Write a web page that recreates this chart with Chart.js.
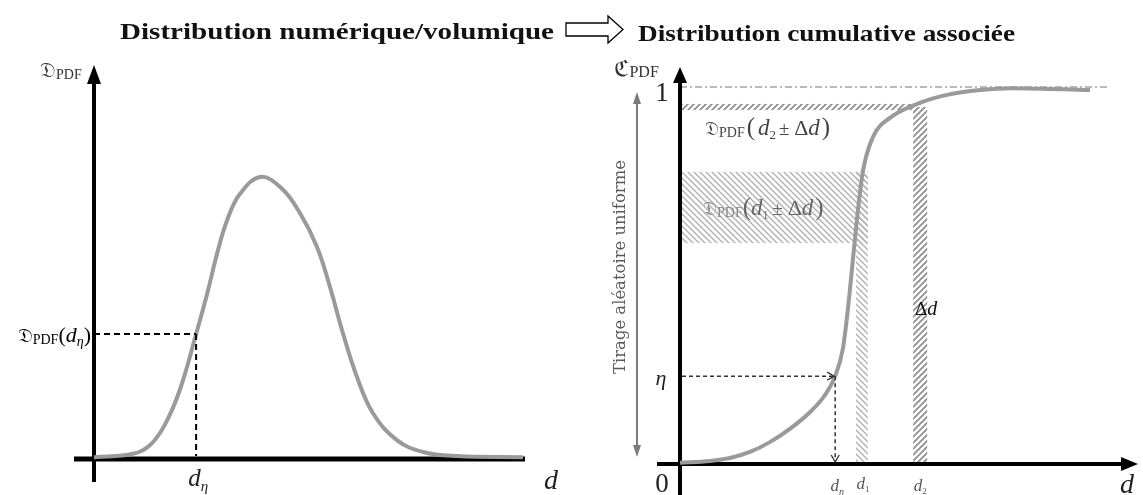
<!DOCTYPE html>
<html><head><meta charset="utf-8">
<script src="https://cdn.jsdelivr.net/npm/chart.js@4.4.1/dist/chart.umd.min.js"></script>
<style>html,body{margin:0;padding:0;background:#fff}#wrap{position:relative;width:1143px;height:495px;overflow:hidden}canvas{position:absolute;left:0;top:0}</style>
</head><body>
<div id="wrap"><canvas id="c1" width="1143" height="495"></canvas><canvas id="c2" width="1143" height="495"></canvas></div>
<script>
// ---------- data ----------
const pdfD = [0, 0.91, 1.31, 1.65, 2.00, 2.38, 2.63, 2.89, 3.12, 3.40, 3.87, 4.34, 4.80, 5.20, 5.50, 5.80, 6.13, 6.50, 7.06, 7.67, 8.46, 10];
const pdfValues = [0.005, 0.014, 0.038, 0.092, 0.186, 0.337, 0.442, 0.563, 0.649, 0.714, 0.760, 0.733, 0.663, 0.571, 0.464, 0.340, 0.221, 0.124, 0.051, 0.019, 0.008, 0.005];
const cdfD = [0, 0.71, 1.18, 1.65, 2.12, 2.59, 3.07, 3.42, 3.66, 3.84, 3.96, 4.08, 4.20, 4.32, 4.55, 4.95, 5.66, 6.30, 7.08, 7.85, 9.67];
const cdfValues = [0.003, 0.008, 0.016, 0.032, 0.058, 0.093, 0.138, 0.183, 0.233, 0.305, 0.411, 0.544, 0.676, 0.780, 0.867, 0.918, 0.958, 0.979, 0.992, 0.997, 0.992];
const pdfEta = { d: 2.38, value: 0.337 };
const cdfEta = { d: 3.66, value: 0.233 };
const d1Band = [4.15, 4.43];
const d2Band = [5.50, 5.83];
const cdfD1Range = [0.586, 0.775];
const cdfD2Range = [0.939, 0.955];
const titles = ["Distribution numérique/volumique", "Distribution cumulative associée"];
const axisLabel = "Tirage aléatoire uniforme";

// ---------- helpers ----------
const SERIF = '"Liberation Serif", "DejaVu Serif", serif';
const WSERIF = '"DejaVu Serif", "Liberation Serif", serif';
const F = (s, st) => `${st || ''} ${s}px ${SERIF}`;
const FR = s => `${s}px "DejaVu Serif", "DejaVu Sans", "Noto Sans", serif`;
function runs(ctx, x, y, list, align) {
  ctx.save(); ctx.textBaseline = 'alphabetic';
  let tot = 0;
  list.forEach(r => { ctx.font = r.f; r.w = ctx.measureText(r.t).width; tot += r.w + (r.g || 0); });
  let cx = align === 'right' ? x - tot : align === 'center' ? x - tot / 2 : x;
  list.forEach(r => { ctx.font = r.f; ctx.fillStyle = r.c || '#000'; ctx.fillText(r.t, cx, y + (r.dy || 0)); cx += r.w + (r.g || 0); });
  ctx.restore();
}
function stretchText(ctx, text, x, y, width, font, col) {
  ctx.save(); ctx.font = font; ctx.fillStyle = col; ctx.textBaseline = 'alphabetic';
  const w = ctx.measureText(text).width;
  ctx.translate(x, y); ctx.scale(width / w, 1); ctx.fillText(text, 0, 0); ctx.restore();
}
function line(ctx, x1, y1, x2, y2, col, w, dash) {
  ctx.save(); ctx.strokeStyle = col; ctx.lineWidth = w; ctx.setLineDash(dash || []);
  ctx.beginPath(); ctx.moveTo(x1, y1); ctx.lineTo(x2, y2); ctx.stroke(); ctx.restore();
}
function tri(ctx, pts, col) {
  ctx.save(); ctx.fillStyle = col; ctx.beginPath(); ctx.moveTo(pts[0], pts[1]);
  for (let i = 2; i < pts.length; i += 2) ctx.lineTo(pts[i], pts[i + 1]);
  ctx.closePath(); ctx.fill(); ctx.restore();
}
function chevron(ctx, x, y, dir, col) {
  ctx.save(); ctx.strokeStyle = col; ctx.lineWidth = 1.3; ctx.beginPath();
  if (dir === 'r') { ctx.moveTo(x - 7, y - 4); ctx.lineTo(x, y); ctx.lineTo(x - 7, y + 4); }
  else { ctx.moveTo(x - 4, y - 7); ctx.lineTo(x, y); ctx.lineTo(x + 4, y - 7); }
  ctx.stroke(); ctx.restore();
}
function hatch(ctx, dir, col, lw) {
  const c = document.createElement('canvas'); c.width = 6; c.height = 6;
  const g = c.getContext('2d'); g.strokeStyle = col; g.lineWidth = lw; g.beginPath();
  if (dir === 'back') { g.moveTo(-1, -1); g.lineTo(7, 7); g.moveTo(-4, 2); g.lineTo(2, 8); g.moveTo(2, -4); g.lineTo(8, 2); }
  else { g.moveTo(-1, 7); g.lineTo(7, -1); g.moveTo(-4, 4); g.lineTo(4, -4); g.moveTo(2, 10); g.lineTo(10, 2); }
  g.stroke();
  return ctx.createPattern(c, 'repeat');
}
function rectData(ctx, xs, ys, x0, x1, y0, y1, pat) {
  const a = xs.getPixelForValue(x0), b = xs.getPixelForValue(x1);
  const c = ys.getPixelForValue(y1), d = ys.getPixelForValue(y0);
  ctx.save(); ctx.fillStyle = pat; ctx.fillRect(a, c, b - a, d - c); ctx.restore();
}
function fitSize(ctx, text, width, fam, style) {
  ctx.font = `${style || ''} 20px ${fam}`; return 20 * width / ctx.measureText(text).width;
}

const baseOpts = (pad) => ({
  responsive: false, animation: false, events: [],
  layout: { padding: pad },
  plugins: { legend: { display: false }, tooltip: { enabled: false } },
  scales: { x: { type: 'linear', min: 0, max: 10, display: false }, y: { min: 0, max: 1, display: false } },
  elements: { point: { radius: 0 } }
});
const ds = (xs, ys, mode) => Object.assign({ data: xs.map((x, i) => ({ x, y: ys[i] })), borderColor: '#9a9a9a', borderWidth: 4, fill: false, clip: false }, mode);

// ---------- left chart ----------
const leftPlugin = {
  id: 'leftDeco',
  beforeDatasetsDraw(chart) {
    const ctx = chart.ctx, xs = chart.scales.x, ys = chart.scales.y;
    const ox = xs.getPixelForValue(0), oy = ys.getPixelForValue(0);
    line(ctx, ox, 82, ox, 482, '#000', 4);
    tri(ctx, [ox, 65, ox - 7, 84, ox + 7, 84], '#000');
    line(ctx, 74, oy, xs.getPixelForValue(10) + 2, oy, '#000', 5);
  },
  afterDatasetsDraw(chart) {
    const ctx = chart.ctx, xs = chart.scales.x, ys = chart.scales.y;
    const ox = xs.getPixelForValue(0), oy = ys.getPixelForValue(0);
    const ex = xs.getPixelForValue(pdfEta.d), ey = ys.getPixelForValue(pdfEta.value);
    line(ctx, ox, ey, ex, ey, '#000', 2, [6, 4]);
    line(ctx, ex, ey, ex, oy - 3, '#000', 2, [6, 4]);
    stretchText(ctx, titles[0], 120, 39, 434, `bold 23px ${SERIF}`, '#111');
    ctx.save(); ctx.strokeStyle = '#000'; ctx.lineWidth = 1.3; ctx.fillStyle = '#fff'; ctx.beginPath();
    ctx.moveTo(566, 23); ctx.lineTo(608, 23); ctx.lineTo(608, 16); ctx.lineTo(623, 29.5);
    ctx.lineTo(608, 43); ctx.lineTo(608, 36); ctx.lineTo(566, 36); ctx.closePath(); ctx.fill(); ctx.stroke(); ctx.restore();
    runs(ctx, 40, 77, [{ t: '𝔇', f: FR(21), c: '#333' }, { t: 'PDF', f: F(14), dy: 2, c: '#333' }], 'left');
    runs(ctx, 91, 342, [{ t: '𝔇', f: FR(20) }, { t: 'PDF', f: F(14), dy: 2 }, { t: '(', f: F(22) },
      { t: 'd', f: F(22, 'italic') }, { t: 'η', f: F(14, 'italic'), dy: 4 }, { t: ')', f: F(22) }], 'right');
    runs(ctx, ex + 2, 486, [{ t: 'd', f: F(25, 'italic'), c: '#222' }, { t: 'η', f: F(15, 'italic'), dy: 5, c: '#222' }], 'center');
    runs(ctx, 551, 489, [{ t: 'd', f: F(28, 'italic'), c: '#222' }], 'center');
  }
};
new Chart(document.getElementById('c1'), {
  type: 'line',
  data: { datasets: [ds(pdfD, pdfValues, { tension: 0.4 })] },
  options: baseOpts({ left: 94, right: 620, top: 88, bottom: 36 }),
  plugins: [leftPlugin]
});

// ---------- right chart ----------
const rightPlugin = {
  id: 'rightDeco',
  beforeDatasetsDraw(chart) {
    const ctx = chart.ctx, xs = chart.scales.x, ys = chart.scales.y;
    const ox = xs.getPixelForValue(0), oy = ys.getPixelForValue(0);
    const pLight = hatch(ctx, 'back', '#b4b4b4', 1.5);
    const pDark = hatch(ctx, 'fwd', '#8f8f8f', 1.8);
    rectData(ctx, xs, ys, 0, d1Band[1], cdfD1Range[0], cdfD1Range[1], pLight);
    rectData(ctx, xs, ys, d1Band[0], d1Band[1], 0, cdfD1Range[1], pLight);
    rectData(ctx, xs, ys, 0, d2Band[0], cdfD2Range[0], cdfD2Range[1], pDark);
    rectData(ctx, xs, ys, d2Band[0], d2Band[1], 0, (cdfD2Range[0] + cdfD2Range[1]) / 2, pDark);
    const y1 = ys.getPixelForValue(1);
    line(ctx, ox, y1, xs.getPixelForValue(10) + 3, y1, '#777', 1.2, [7, 3, 2, 3]);
    line(ctx, ox, 80, ox, 495, '#000', 4);
    tri(ctx, [ox, 67, ox - 7, 83, ox + 7, 83], '#000');
    line(ctx, 657, oy, 1126, oy, '#000', 4);
    tri(ctx, [1138, oy, 1121, oy - 7, 1121, oy + 7], '#000');
    line(ctx, 637, 100, 637, 450, '#7a7a7a', 2);
    tri(ctx, [637, 92, 633, 104, 641, 104], '#7a7a7a');
    tri(ctx, [637, 457, 633, 445, 641, 445], '#7a7a7a');
  },
  afterDatasetsDraw(chart) {
    const ctx = chart.ctx, xs = chart.scales.x, ys = chart.scales.y;
    const ox = xs.getPixelForValue(0), oy = ys.getPixelForValue(0);
    const ex = xs.getPixelForValue(cdfEta.d), ey = ys.getPixelForValue(cdfEta.value);
    line(ctx, ox + 2, ey, ex - 1, ey, '#333', 1.5, [4, 3]);
    chevron(ctx, ex - 1, ey, 'r', '#333');
    line(ctx, ex, ey, ex, oy - 3, '#333', 1.5, [4, 3]);
    chevron(ctx, ex, oy - 2, 'd', '#333');
    stretchText(ctx, titles[1], 638, 41, 377, `bold 23px ${SERIF}`, '#111');
    runs(ctx, 614, 76, [{ t: 'ℭ', f: FR(22), c: '#333' }, { t: 'PDF', f: F(16), dy: 1, c: '#333' }], 'left');
    runs(ctx, 662, 101, [{ t: '1', f: F(27), c: '#222' }], 'center');
    runs(ctx, 662, 492, [{ t: '0', f: F(27), c: '#222' }], 'center');
    runs(ctx, 661, 385, [{ t: 'η', f: F(22, 'italic'), c: '#222' }], 'center');
    runs(ctx, 1127, 493, [{ t: 'd', f: F(28, 'italic'), c: '#222' }], 'center');
    const c1x = xs.getPixelForValue((d1Band[0] + d1Band[1]) / 2), c2x = xs.getPixelForValue((d2Band[0] + d2Band[1]) / 2);
    runs(ctx, ex + 2, 491, [{ t: 'd', f: F(17, 'italic'), c: '#555' }, { t: 'η', f: F(10, 'italic'), dy: 4, c: '#555' }], 'center');
    runs(ctx, c1x + 1, 489, [{ t: 'd', f: F(17, 'italic'), c: '#555' }, { t: '1', f: F(9), dy: 3, c: '#555' }], 'center');
    runs(ctx, c2x, 491, [{ t: 'd', f: F(17, 'italic'), c: '#555' }, { t: '2', f: F(9), dy: 3, c: '#555' }], 'center');
    runs(ctx, 915, 315, [{ t: 'Δ', f: F(19), c: '#111' }, { t: 'd', f: F(20, 'italic'), c: '#111' }], 'left');
    runs(ctx, 705, 135, [{ t: '𝔇', f: FR(19), c: '#444' }, { t: 'PDF', f: F(14), dy: 2, c: '#444', g: 2 },
      { t: '(', f: F(25), c: '#444', g: 3 }, { t: 'd', f: F(23, 'italic'), c: '#444' }, { t: '2', f: F(13), dy: 4, c: '#444', g: 3 },
      { t: '± ', f: F(19), c: '#444' }, { t: 'Δ', f: F(22), c: '#444' }, { t: 'd', f: F(23, 'italic'), c: '#444', g: 2 }, { t: ')', f: F(25), c: '#444' }], 'left');
    runs(ctx, 703, 215, [{ t: '𝔇', f: FR(19), c: '#888' }, { t: 'PDF', f: F(14), dy: 2, c: '#888' },
      { t: '(', f: F(25), c: '#666' }, { t: 'd', f: F(23, 'italic'), c: '#666' }, { t: '1', f: F(12), dy: 4, c: '#666', g: 4 },
      { t: '± ', f: F(19), c: '#666' }, { t: 'Δ', f: F(22), c: '#666' }, { t: 'd', f: F(23, 'italic'), c: '#666', g: 2 }, { t: ')', f: F(25), c: '#666' }], 'left');
    const s3 = fitSize(ctx, axisLabel, 214, WSERIF, '');
    ctx.save(); ctx.translate(621, 267); ctx.rotate(-Math.PI / 2);
    ctx.font = `${s3}px ${WSERIF}`; ctx.fillStyle = '#5a5a5a'; ctx.textAlign = 'center'; ctx.textBaseline = 'middle';
    ctx.fillText(axisLabel, 0, 0); ctx.restore();
  }
};
new Chart(document.getElementById('c2'), {
  type: 'line',
  data: { datasets: [ds(cdfD, cdfValues, { cubicInterpolationMode: 'monotone' })] },
  options: baseOpts({ left: 680, right: 39, top: 87, bottom: 31 }),
  plugins: [rightPlugin]
});
</script>
</body></html>
